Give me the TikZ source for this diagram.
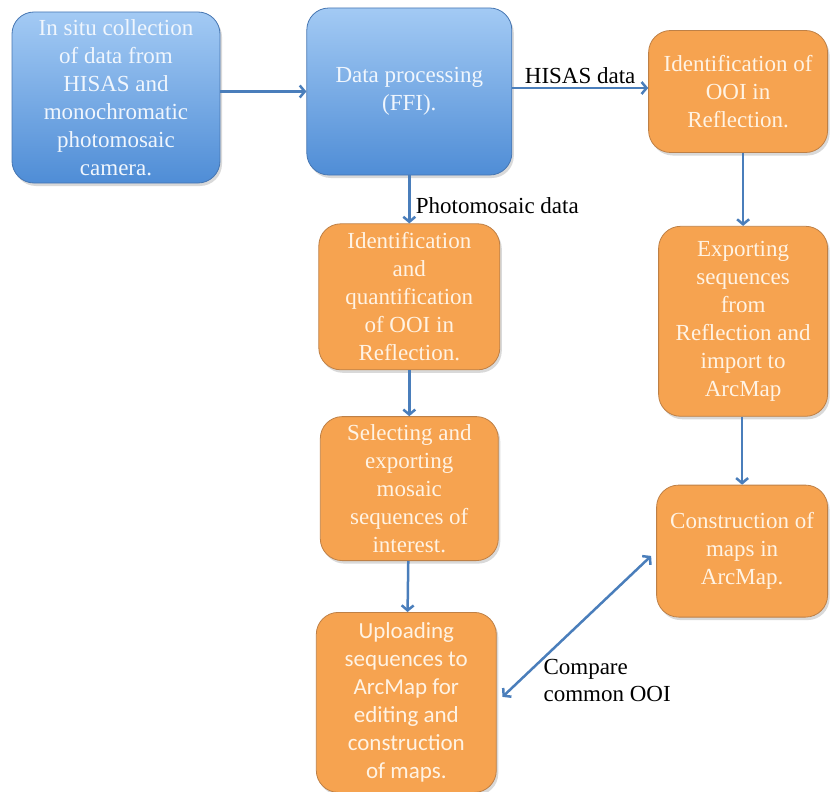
\documentclass[tikz,border=0pt]{standalone}
\usepackage{fontspec}
\setmainfont{Liberation Serif}
\newfontfamily\timesfont{Liberation Serif}
\newfontfamily\calibri{Carlito}
\usepackage{tikz}
\usetikzlibrary{positioning}
\usetikzlibrary{shapes,arrows.meta,shadows}
\definecolor{boxblue}{RGB}{79,141,214}
\definecolor{boxbluetop}{RGB}{163,202,244}
\definecolor{boxblueline}{RGB}{70,118,178}
\definecolor{boxorange}{RGB}{246,163,80}
\definecolor{boxorangeline}{RGB}{190,128,70}
\definecolor{flowblue}{RGB}{74,126,187}
\definecolor{bluetext}{RGB}{240,246,253}
\definecolor{orangetext}{RGB}{255,243,228}

\begin{document}
\begin{tikzpicture}[x=1pt, y=1pt,
  >={Straight Barb[length=5pt,width=12pt]},
  box/.style={rounded corners=22pt, align=center, inner sep=2pt,
    font=\timesfont\fontsize{23}{28}\selectfont,
    drop shadow={opacity=0.3, shadow xshift=2pt, shadow yshift=-3pt}},
  bluebox/.style={box, draw=boxblueline, line width=0.8pt,
    top color=boxbluetop, bottom color=boxblue, text=bluetext},
  orangebox/.style={box, draw=boxorangeline, line width=0.8pt,
    fill=boxorange, text=orangetext},
  flow/.style={draw=flowblue, line width=2.5pt},
  lbl/.style={font=\timesfont\fontsize{23}{27}\selectfont, text=black}]
	\useasboundingbox (0,0) rectangle (830,-792);
	\node[bluebox, minimum width=208pt, minimum height=171pt] (c0) at (116,-97.5)
		{In situ collection\\of data from\\HISAS and\\monochromatic\\photomosaic\\camera.};
	\node[bluebox, minimum width=205pt, minimum height=167pt, right=86pt of c0, yshift=6pt] (p0)
		{Data processing\\(FFI).};
	\node[orangebox, minimum width=179pt, minimum height=122pt, right=136pt of p0] (h1)
		{Identification of\\OOI in\\Reflection.};
	\node[orangebox, minimum width=181pt, minimum height=146pt, below=48pt of p0] (m1)
		{Identification\\and\\quantification\\of OOI in\\Reflection.};
	\node[orangebox, minimum width=178pt, minimum height=144pt, below=46pt of m1] (m2)
		{Selecting and\\exporting\\mosaic\\sequences of\\interest.};
	\node[orangebox, minimum width=180pt, minimum height=180pt, below=51pt of m2, xshift=-3pt,
		font=\calibri\fontsize{23}{28}\selectfont] (m3)
		{Uploading\\sequences to\\ArcMap for\\editing and\\construction\\of maps.};
	\node[orangebox, minimum width=169pt, minimum height=190pt, below=73pt of h1, xshift=5pt] (h2)
		{Exporting\\sequences\\from\\Reflection and\\import to\\ArcMap};
	\node[orangebox, minimum width=171pt, minimum height=132pt, below=68pt of h2, xshift=-1pt] (h3)
		{Construction of\\maps in\\ArcMap.};
	\node[lbl, align=left, anchor=north west] (cmp) at (540,-656) {Compare\\common OOI};
	\draw[flow, ->] (c0.east |- p0) -- (p0.west);
	\draw[flow, ->] (p0.east |- 0,-88) -- node[lbl, midway, above=0pt] {HISAS data} (h1.west |- 0,-88);
	\draw[flow, ->] (p0) -- node[lbl, pos=0.62, right=2pt] {Photomosaic data} (m1);
	\draw[flow, ->] (m1) -- (m2);
	\draw[flow, ->] (m2) -- (m3);
	\draw[flow, ->] (h1.south -| h2) -- (h2);
	\draw[flow, ->] (h2.south -| h3) -- (h3);
	\draw[flow, <->, shorten <=8pt, shorten >=7pt] (m3.east) -- (h3.west);
\end{tikzpicture}
\end{document}
